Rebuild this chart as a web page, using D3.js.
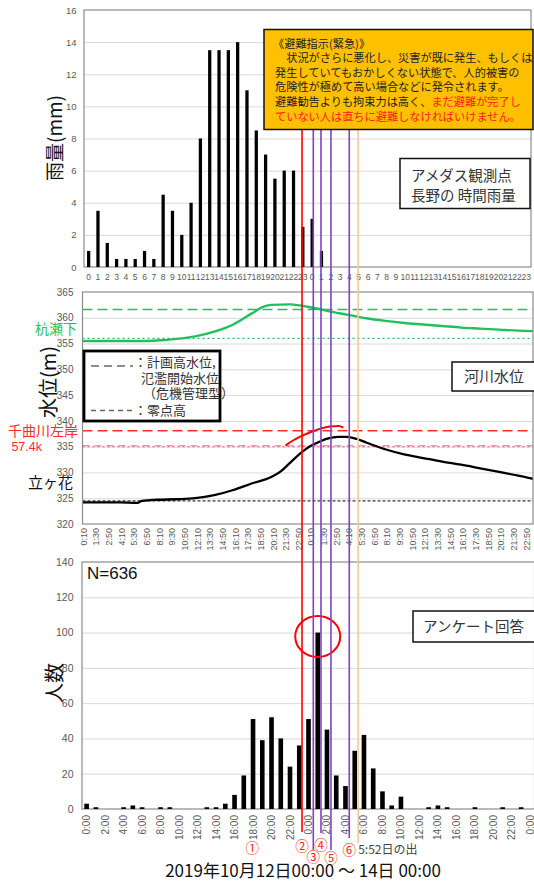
<!DOCTYPE html>
<html>
<head>
<meta charset="utf-8">
<script src="https://cdn.jsdelivr.net/npm/d3@7"></script>
<style>
  body { margin: 0; background: #fff; }
  svg { display: block; }
</style>
</head>
<body>
<svg id="chart" width="534" height="883"></svg>
<script>
// ---------- data ----------
// hourly rain at AMeDAS Nagano, 12th 0h .. 13th 23h
var rainLabels = ["0","1","2","3","4","5","6","7","8","9","10","11","12","13","14","15","16","17","18","19","20","21","22","23",
                  "0","1","2","3","4","5","6","7","8","9","10","11","12","13","14","15","16","17","18","19","20","21","22","23"];
var rainValues = [1,3.5,1.5,0.5,0.5,0.5,1,0.5,4.5,3.5,2,4,8,13.5,13.5,13.5,14,11,8.5,7,5.5,6,6,2.5,
                  3,1,0,0,0,0,0,0,0,0,0,0,0,0,0,0,0,0,0,0,0,0,0,0];

// river level (hours from 12th 00:00, metres)
var levelTickLabels = ["0:10","1:30","2:50","4:10","5:30","6:50","8:10","9:30","10:50","12:10","13:30","14:50","16:10","17:30","18:50","20:10","21:30","22:50",
                       "0:10","1:30","2:50","4:10","5:30","6:50","8:10","9:30","10:50","12:10","13:30","14:50","16:10","17:30","18:50","20:10","21:30","22:50"];
var kuiseHours = [0,2,4,6,8,10,12,14,16,18,19,20,22,23,24,26,28,30,32,34,36,38,40,42,44,46,48];
var kuiseLevel = [355.5,355.5,355.5,355.5,355.6,355.9,356.4,357.3,358.7,360.9,362.0,362.5,362.6,362.4,362.1,361.3,360.6,359.9,359.4,359.0,358.7,358.4,358.1,357.9,357.7,357.5,357.4];
var tateHours = [0,2,4,5.9,6.4,8,10,12,14,16,18,20,21,22,23,24,25,26,27,28,29,30,32,34,36,38,40,42,44,46,48];
var tateLevel = [324.2,324.2,324.2,324.1,324.5,324.7,324.8,325.0,325.6,326.6,327.9,329.1,330.2,331.9,333.6,335.0,335.9,336.6,336.9,336.9,336.5,335.8,334.5,333.5,332.8,332.1,331.5,330.8,330.1,329.4,328.6];
var chikumaHours = [21.5,22.2,23,24.4,26.2,27.1,27.6];
var chikumaLevel = [335.2,336.1,336.9,338.0,338.9,339.0,338.7];
// reference levels: kuise plan / kuise zero-ish, chikuma plan, chikuma start, gray dashed, tategahana zero
var kuisePlan = 361.6, kuiseZero = 356.0, chikumaPlan = 338.1, chikumaStart = 335.0, grayRef = 335.2, tateZero = 324.5;

// survey answers per hour, 12th 0:00 .. 14th 0:00
var surveyLabels = ["0:00","1:00","2:00","3:00","4:00","5:00","6:00","7:00","8:00","9:00","10:00","11:00","12:00","13:00","14:00","15:00","16:00","17:00","18:00","19:00","20:00","21:00","22:00","23:00",
                    "0:00","1:00","2:00","3:00","4:00","5:00","6:00","7:00","8:00","9:00","10:00","11:00","12:00","13:00","14:00","15:00","16:00","17:00","18:00","19:00","20:00","21:00","22:00","23:00","0:00"];
var surveyValues = [3,1,0,0,1,2,1,0,1,1,0,0,0,1,1,3,8,19,51,39,52,40,24,36,
                    51,100,45,19,13,33,42,23,10,2,7,0,0,1,2,1,0,0,1,0,0,1,0,1,0];

// alert times (hours from 12th 00:00)
var alertLabels = ["①","②","③","④","⑤","⑥"];
var alertHours = [18.42, 23.8, 25.02, 25.85, 26.93, 28.91];
var sunriseHour = 29.87;

// ---------- setup ----------
var svg = d3.select("#chart");
var JP = '"Noto Sans CJK JP","Noto Sans",sans-serif';
var NUM = '"Liberation Sans",Arial,sans-serif';
var gridColor = "#d9d9d9", frameColor = "#8c8c8c", tickColor = "#595959";
var green = "#22bf5c", red = "#ff2a2a", purple = "#7b43c6";

function yGrid(g, scale, values, l, r) {
  g.append("g").attr("transform", "translate(" + l + ",0)")
    .call(d3.axisLeft(scale).tickValues(values).tickSize(-(r - l)).tickFormat(""))
    .call(function (a) { a.select(".domain").remove(); })
    .selectAll("line").attr("stroke", gridColor);
}
function yLabels(g, scale, values, l, pad, size) {
  g.append("g").attr("transform", "translate(" + l + ",0)")
    .call(d3.axisLeft(scale).tickValues(values).tickSize(0).tickPadding(pad))
    .call(function (a) { a.select(".domain").remove(); })
    .selectAll("text").attr("fill", tickColor).style("font-size", size + "px").style("font-family", NUM);
}
function frame(g, b) {
  g.append("rect").attr("x", b.l).attr("y", b.t).attr("width", b.r - b.l).attr("height", b.b - b.t)
    .attr("fill", "none").attr("stroke", frameColor).attr("stroke-width", 1.2);
}
function yTitle(txt, x, y, size) {
  svg.append("text").attr("transform", "translate(" + x + "," + y + ") rotate(-90)")
    .attr("text-anchor", "middle").attr("dominant-baseline", "central")
    .style("font-family", JP).style("font-size", size + "px").attr("fill", "#111").text(txt);
}
function labelBox(x, y, w, h, lines, size, sw) {
  svg.append("rect").attr("x", x).attr("y", y).attr("width", w).attr("height", h)
    .attr("fill", "#fff").attr("stroke", "#111").attr("stroke-width", sw || 1.5);
  lines.forEach(function (l) {
    svg.append("text").attr("x", l[0]).attr("y", l[1]).style("font-family", JP).style("font-size", size + "px")
      .attr("fill", "#333").text(l[2]);
  });
}

// ---------- top panel: rain ----------
var pTop = { l: 84, r: 531, t: 10, b: 267 };
var xRain = d3.scaleBand().domain(d3.range(rainValues.length)).range([pTop.l, pTop.r]).paddingInner(0.65).paddingOuter(0.325);
var yRain = d3.scaleLinear().domain([0, 16]).range([pTop.b, pTop.t]);
var gTop = svg.append("g");
yGrid(gTop, yRain, d3.range(2, 16, 2), pTop.l, pTop.r);
frame(gTop, pTop);
yLabels(gTop, yRain, d3.range(0, 17, 2), pTop.l, 7.5, 9.5);
gTop.selectAll(".rain").data(rainValues).join("rect")
  .attr("x", function (d, i) { return xRain(i); })
  .attr("width", xRain.bandwidth())
  .attr("y", function (d) { return yRain(d); })
  .attr("height", function (d) { return yRain(0) - yRain(d); })
  .attr("fill", "#000");
gTop.append("g").attr("transform", "translate(0," + pTop.b + ")")
  .call(d3.axisBottom(xRain).tickSize(0).tickPadding(7).tickFormat(function (i) { return rainLabels[i]; }))
  .call(function (a) { a.select(".domain").remove(); })
  .selectAll("text").attr("fill", tickColor).style("font-size", "8.5px").style("font-family", NUM);
yTitle("雨量(mm)", 53, 138, 19);

// ---------- middle panel: river level ----------
var pMid = { l: 82.5, r: 533, t: 292, b: 524 };
var xLevel = d3.scaleLinear().domain([10 / 60, 46 + 50 / 60]).range([83, 526]);
var yLevel = d3.scaleLinear().domain([320, 365]).range([pMid.b, pMid.t]);
var gMid = svg.append("g");
yGrid(gMid, yLevel, d3.range(325, 365, 5), pMid.l, pMid.r);
svg.append("clipPath").attr("id", "clipMid").append("rect")
  .attr("x", pMid.l).attr("y", pMid.t).attr("width", pMid.r - pMid.l).attr("height", pMid.b - pMid.t);
var gClip = gMid.append("g").attr("clip-path", "url(#clipMid)");

function hLine(v, color, dash, w) {
  gClip.append("line").attr("x1", pMid.l).attr("x2", pMid.r).attr("y1", yLevel(v)).attr("y2", yLevel(v))
    .attr("stroke", color).attr("stroke-dasharray", dash).attr("stroke-width", w);
}
hLine(kuisePlan, green, "10,5", 1.6);
hLine(kuiseZero, green, "2,3", 1.3);
hLine(chikumaPlan, red, "10,5", 1.6);
hLine(grayRef, "#b0b0b0", "7,5", 1.4);
hLine(chikumaStart, "#f06a7a", "2,3", 1.4);
hLine(tateZero, "#333", "3,2", 1.3);

var line = d3.line().x(function (d) { return xLevel(d[0]); }).y(function (d) { return yLevel(d[1]); }).curve(d3.curveMonotoneX);
gClip.append("path").datum(d3.zip(kuiseHours, kuiseLevel)).attr("d", line)
  .attr("fill", "none").attr("stroke", green).attr("stroke-width", 2.4);
gClip.append("path").datum(d3.zip(tateHours, tateLevel)).attr("d", line)
  .attr("fill", "none").attr("stroke", "#000").attr("stroke-width", 2.3);
gClip.append("path").datum(d3.zip(chikumaHours, chikumaLevel)).attr("d", line)
  .attr("fill", "none").attr("stroke", "#ff0000").attr("stroke-width", 2);

frame(gMid, pMid);
yLabels(gMid, yLevel, d3.range(320, 366, 5), pMid.l, 9, 10);
gMid.append("g").attr("transform", "translate(0," + pMid.b + ")")
  .call(d3.axisBottom(xLevel).tickValues(levelTickLabels.map(function (d, i) { return (10 + i * 80) / 60; }))
    .tickSize(0).tickFormat(function (d, i) { return levelTickLabels[i]; }))
  .call(function (a) { a.select(".domain").remove(); })
  .selectAll("text").attr("transform", "rotate(-90)").attr("text-anchor", "end")
  .attr("x", -4).attr("y", 0).attr("dy", "0.35em")
  .attr("fill", tickColor).style("font-size", "9px").style("font-family", NUM);
yTitle("水位(m)", 47, 382, 20);

svg.append("text").attr("x", 77).attr("y", yLevel(357.9) + 5).attr("text-anchor", "end")
  .style("font-family", JP).style("font-size", "14px").attr("fill", green).text("杭瀬下");
svg.append("text").attr("x", 78).attr("y", yLevel(chikumaPlan) + 5.5).attr("text-anchor", "end")
  .style("font-family", JP).style("font-size", "14px").attr("fill", red).text("千曲川左岸");
svg.append("text").attr("x", 42).attr("y", yLevel(chikumaStart) + 4.5).attr("text-anchor", "end")
  .style("font-family", NUM).style("font-size", "12.5px").attr("fill", red).text("57.4k");
svg.append("text").attr("x", 73).attr("y", yLevel(tateZero) - 13).attr("text-anchor", "end")
  .style("font-family", JP).style("font-size", "15px").attr("fill", "#111").text("立ヶ花");

// legend
svg.append("rect").attr("x", 84).attr("y", 351).attr("width", 136).attr("height", 70)
  .attr("fill", "#fff").attr("stroke", "#000").attr("stroke-width", 2.8);
svg.append("line").attr("x1", 91).attr("x2", 133).attr("y1", 366).attr("y2", 366)
  .attr("stroke", "#666").attr("stroke-width", 1.6).attr("stroke-dasharray", "8,5");
svg.append("line").attr("x1", 91).attr("x2", 133).attr("y1", 410.5).attr("y2", 410.5)
  .attr("stroke", "#666").attr("stroke-width", 1.4).attr("stroke-dasharray", "5,4");
[[134, 366.5, "：計画高水位,"], [141, 383, "氾濫開始水位"], [143, 398, "（危機管理型）"], [134, 415, "：零点高"]].forEach(function (l) {
  svg.append("text").attr("x", l[0]).attr("y", l[1]).style("font-family", JP).style("font-size", "13px")
    .attr("fill", "#333").text(l[2]);
});

// ---------- bottom panel: survey ----------
var pBot = { l: 82, r: 534.5, t: 562, b: 809 };
var xSurvey = d3.scaleBand().domain(d3.range(surveyValues.length)).range([82, 535]).paddingInner(0.5).paddingOuter(0.25);
var ySurvey = d3.scaleLinear().domain([0, 140]).range([pBot.b, pBot.t]);
var gBot = svg.append("g");
yGrid(gBot, ySurvey, d3.range(20, 140, 20), pBot.l, pBot.r);
frame(gBot, pBot);
yLabels(gBot, ySurvey, d3.range(0, 141, 20), pBot.l, 8.5, 10.5);
gBot.selectAll(".ans").data(surveyValues).join("rect")
  .attr("x", function (d, i) { return xSurvey(i); })
  .attr("width", xSurvey.bandwidth())
  .attr("y", function (d) { return ySurvey(d); })
  .attr("height", function (d) { return ySurvey(0) - ySurvey(d); })
  .attr("fill", "#000");
gBot.append("g").attr("transform", "translate(0," + pBot.b + ")")
  .call(d3.axisBottom(xSurvey).tickValues(d3.range(0, surveyValues.length, 2)).tickSize(0)
    .tickFormat(function (i) { return surveyLabels[i]; }))
  .call(function (a) { a.select(".domain").remove(); })
  .selectAll("text").attr("transform", "rotate(-90)").attr("text-anchor", "end")
  .attr("x", -6).attr("y", 0).attr("dy", "0.35em")
  .attr("fill", tickColor).style("font-size", "10px").style("font-family", NUM);
yTitle("人数", 53, 683, 20);
svg.append("text").attr("x", 87).attr("y", 579).style("font-family", NUM).style("font-size", "17px")
  .attr("fill", "#111").text("N=636");

// peak circle
var peak = d3.maxIndex(surveyValues);
svg.append("ellipse").attr("cx", xSurvey(peak) + xSurvey.bandwidth() / 2).attr("cy", ySurvey(surveyValues[peak]) + 4)
  .attr("rx", 22.5).attr("ry", 20.5).attr("fill", "none").attr("stroke", "#ff0000").attr("stroke-width", 2);

// ---------- alert lines across all panels ----------
var tAlert = d3.scaleLinear().domain([0, surveyLabels.length]).range([82, 535]);
var lineEnds = [0, 832, 850, 833, 850, 838];
var labelY = [847, 845, 856, 843.5, 856.5, 848.5];
alertHours.forEach(function (h, i) {
  var x = tAlert(h);
  if (i > 0) { // ① has no line
    svg.append("line").attr("x1", x).attr("x2", x).attr("y1", 30).attr("y2", lineEnds[i])
      .attr("stroke", i === 1 ? "#ff0000" : purple).attr("stroke-width", 1.6);
  }
  svg.append("text").attr("x", x).attr("y", labelY[i]).attr("text-anchor", "middle").attr("dominant-baseline", "central")
    .style("font-family", JP).style("font-size", "13.5px").attr("fill", "#ff2020").text(alertLabels[i]);
});
var xs = tAlert(sunriseHour);
svg.append("line").attr("x1", xs).attr("x2", xs).attr("y1", 30).attr("y2", 843)
  .attr("stroke", "#f6c79a").attr("stroke-width", 1.6);
svg.append("text").attr("x", xs).attr("y", 854).style("font-family", JP).style("font-size", "12px")
  .attr("fill", "#444").text("5:52日の出");

// ---------- annotation boxes ----------
svg.append("rect").attr("x", 264).attr("y", 29.5).attr("width", 269).attr("height", 100)
  .attr("fill", "#ffc000").attr("stroke", "#111").attr("stroke-width", 1.5);
var noteLines = [
  [[273, "《避難指示(緊急)》", "#222"]],
  [[275, "　状況がさらに悪化し、災害が既に発生、もしくは", "#222"]],
  [[275, "発生していてもおかしくない状態で、人的被害の", "#222"]],
  [[275, "危険性が極めて高い場合などに発令されます。", "#222"]],
  [[275, "避難勧告よりも拘束力は高く、", "#222"], [null, "まだ避難が完了し", "#ff1a1a"]],
  [[275, "ていない人は直ちに避難しなければいけません。", "#ff1a1a"]]
];
noteLines.forEach(function (parts, i) {
  var t = svg.append("text").attr("y", 47.5 + i * 14.6).style("font-family", JP).style("font-size", "11.2px");
  parts.forEach(function (p) {
    var s = t.append("tspan").attr("fill", p[2]).text(p[1]);
    if (p[0] !== null) s.attr("x", p[0]);
  });
});

labelBox(400, 158.5, 130, 50, [[411, 181, "アメダス観測点"], [411, 201, "長野の 時間雨量"]], 14.5);
labelBox(452, 362, 84, 29, [[464, 382, "河川水位"]], 15);
labelBox(413, 611, 123, 31, [[423, 632, "アンケート回答"]], 14.5);

// ---------- bottom title ----------
svg.append("text").attr("x", 303).attr("y", 877).attr("text-anchor", "middle")
  .style("font-family", JP).style("font-size", "17px").attr("fill", "#111")
  .text("2019年10月12日00:00 ～ 14日 00:00");
</script>
</body>
</html>
